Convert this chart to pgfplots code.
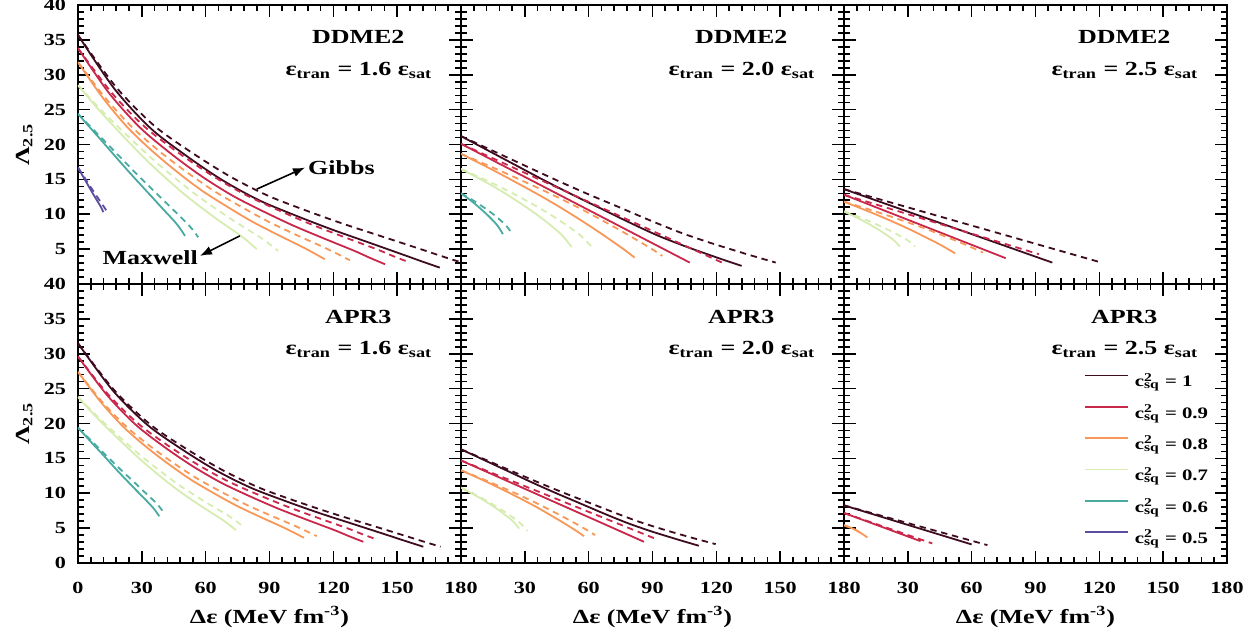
\documentclass[border=0pt]{standalone}
\usepackage{fontspec}
\setmainfont{Liberation Serif}[FakeStretch=1.3]
\usepackage{pgfplots}
\pgfplotsset{compat=1.18}
\usepgfplotslibrary{groupplots}
\usetikzlibrary{arrows.meta}
\definecolor{cA}{RGB}{62,12,32}
\definecolor{cB}{RGB}{201,40,75}
\definecolor{cC}{RGB}{247,152,88}
\definecolor{cD}{RGB}{214,236,176}
\definecolor{cE}{RGB}{72,170,160}
\definecolor{cF}{RGB}{90,78,160}
\newcommand{\annfont}{\fontsize{10}{12}\selectfont\bfseries}
\newcommand{\csq}{c\rlap{\textsuperscript{2}}\textsubscript{sq}}
\newcommand{\etr}[1]{ε\textsubscript{tran} = #1 ε\textsubscript{sat}}
\pgfplotsset{
 mx/.style={line width=0.9pt, smooth},
 gb/.style={line width=0.9pt, smooth, dash pattern=on 3.2pt off 2.4pt},
 panel/.style={width=191.5pt,height=139.5pt,scale only axis,
   xmin=0,xmax=180,ymin=0,ymax=40,
   xtick={0,30,...,180}, ytick={0,5,...,40},
   minor x tick num=4, minor y tick num=4,
   tick align=inside, axis line style={line width=1.2pt},
   major tick length=6pt, minor tick length=3pt,
   every tick/.append style={line width=0.8pt, black},
   tick label style={font=\fontsize{8.5}{10}\selectfont\bfseries},
   xticklabel style={yshift=-6pt}, yticklabel style={xshift=-2.5pt},
   every axis y label/.style={at={(axis description cs:-0.14,0.5)}, rotate=90, anchor=center, font=\annfont},
   every axis x label/.style={at={(axis description cs:0.5,-0.1935)}, anchor=center, font=\annfont},
   xticklabels={}, yticklabels={},
 },
}
\begin{document}
\begin{tikzpicture}
\begin{groupplot}[group style={group size=3 by 2, horizontal sep=0pt, vertical sep=0pt}, panel]
% ---------- DDME2 1.6
\nextgroupplot[yticklabels={,5,10,15,20,25,30,35,40}, ylabel={Λ\textsubscript{2.5}}]
\addplot[cA,mx] coordinates {(0,35.7)(17,28.03)(34,22.36)(51,18.36)(68,14.86)(85,12.02)(102,9.85)(119,7.85)(136,6.02)(153,4.18)(161.5,3.25)(170,2.35)};
\addplot[cA,gb] coordinates {(0,35.7)(17.9,28.23)(35.8,22.7)(53.7,18.8)(71.6,15.39)(89.5,12.63)(107.4,10.51)(125.3,8.56)(143.2,6.78)(161.1,4.99)(170,4.08)(179,3.2)};
\addplot[cB,mx] coordinates {(0,33.8)(14.4,27.45)(28.9,22.5)(43.3,18.78)(57.7,15.53)(72.2,12.74)(86.6,10.48)(101,8.4)(115.4,6.55)(129.9,4.75)(137.1,3.76)(144.3,2.83)};
\addplot[cB,gb] coordinates {(0,33.8)(15.6,27.5)(31.2,22.58)(46.8,18.9)(62.4,15.67)(78,12.9)(93.6,10.66)(109.2,8.6)(124.8,6.76)(140.4,4.98)(148.2,3.99)(156,3.07)};
\addplot[cC,mx] coordinates {(0,31.8)(11.6,26.72)(23.2,22.48)(34.8,19.09)(46.4,16.12)(58,13.44)(69.6,11.18)(81.2,9.06)(92.8,7.22)(104.4,5.47)(110.2,4.54)(116,3.55)};
\addplot[cC,gb] coordinates {(0,31.8)(12.8,26.69)(25.6,22.43)(38.3,19.02)(51.1,16.04)(63.9,13.34)(76.7,11.07)(89.5,8.94)(102.2,7.09)(115,5.33)(121.4,4.39)(127.8,3.4)};
\addplot[cD,mx] coordinates {(0,28.5)(8.4,25.45)(16.8,22.63)(25.2,19.92)(33.6,17.34)(42,14.99)(50.4,12.76)(58.8,10.76)(67.2,8.88)(75.6,7.12)(79.8,6.13)(84,5.0)};
\addplot[cD,gb] coordinates {(0,28.5)(9.4,25.41)(18.8,22.56)(28.2,19.83)(37.6,17.22)(47,14.84)(56.4,12.59)(65.8,10.57)(75.2,8.67)(84.6,6.89)(89.3,5.89)(94,4.75)};
\addplot[cE,mx] coordinates {(0,24.4)(5,22.65)(10.1,20.9)(15.1,19.15)(20.1,17.4)(25.2,15.65)(30.2,13.99)(35.2,12.33)(40.2,10.66)(45.3,9.0)(47.8,8.04)(50.3,6.9)};
\addplot[cE,gb] coordinates {(0,24.4)(5.65,22.63)(11.3,20.86)(16.95,19.09)(22.6,17.32)(28.25,15.55)(33.9,13.87)(39.55,12.19)(45.2,10.51)(50.85,8.82)(53.7,7.85)(56.5,6.7)};
\addplot[cF,mx] coordinates {(0,16.7)(3.57,14.78)(7.14,12.89)(10.71,11.07)(11.9,10.3)};
\addplot[cF,gb] coordinates {(0,16.7)(4.26,14.69)(8.52,12.71)(12.78,10.8)(14.2,10.0)};
\node[anchor=base,font=\annfont] at (axis cs:131.7,34.45) {DDME2};
\node[anchor=base,font=\annfont] at (axis cs:132,29.85) {\etr{1.6}};
\draw[-{Latex[length=6pt,width=4.5pt]}, line width=0.8pt] (axis cs:84,13.6) -- (axis cs:106.7,16.7);
\node[anchor=west,inner sep=0pt,font=\annfont] at (axis cs:108,16.7) {Gibbs};
\draw[-{Latex[length=6pt,width=4.5pt]}, line width=0.8pt] (axis cs:76.1,6.9) -- (axis cs:57.3,4.03);
\node[anchor=east,inner sep=0pt,font=\annfont] at (axis cs:56.5,3.8) {Maxwell};
% ---------- DDME2 2.0
\nextgroupplot[]
\addplot[cA,mx] coordinates {(0,21.2)(13.2,19.06)(26.4,16.92)(39.6,14.78)(52.8,12.74)(66,10.78)(79.1,8.83)(92.3,6.97)(105.5,5.39)(118.7,3.96)(125.3,3.27)(131.9,2.6)};
\addplot[cA,gb] coordinates {(0,21.2)(14.8,19.12)(29.6,17.03)(44.4,14.95)(59.2,12.95)(74,11.05)(88.7,9.14)(103.5,7.33)(118.3,5.79)(133.1,4.39)(140.5,3.72)(147.9,3.07)};
\addplot[cB,mx] coordinates {(0,20.1)(26.9,15.84)(53.75,11.59)(80.6,7.33)(107.5,3.07)};
\addplot[cB,gb] coordinates {(0,20.1)(31.1,15.78)(62.2,11.47)(93.3,7.15)(124.4,2.83)};
\addplot[cC,mx] coordinates {(0,18.66)(8.2,17.4)(16.3,16.13)(24.5,14.79)(32.6,13.45)(40.8,12.04)(49,10.55)(57.1,8.99)(65.3,7.35)(73.4,5.64)(77.5,4.75)(81.6,3.78)};
\addplot[cC,gb] coordinates {(0,18.66)(9.5,17.42)(18.9,16.17)(28.4,14.86)(37.8,13.54)(47.3,12.15)(56.8,10.69)(66.2,9.15)(75.7,7.54)(85.1,5.86)(89.9,4.98)(94.6,4.03)};
\addplot[cD,mx] coordinates {(0,16.5)(5.2,15.66)(10.4,14.82)(15.6,13.92)(20.8,12.97)(26,11.96)(31.2,10.9)(36.4,9.78)(41.6,8.55)(46.8,7.2)(49.4,6.31)(52,5.3)};
\addplot[cD,gb] coordinates {(0,16.5)(6.2,15.65)(12.4,14.79)(18.6,13.88)(24.8,12.92)(31,11.9)(37.2,10.82)(43.4,9.68)(49.6,8.43)(55.8,7.06)(58.9,6.15)(62,5.13)};
\addplot[cE,mx] coordinates {(0,13)(5.9,11.65)(11.8,10.08)(15.8,8.85)(17.7,8.14)(19.7,7.15)};
\addplot[cE,gb] coordinates {(0,13)(7,11.74)(14,10.27)(18.6,9.12)(21,8.46)(23.3,7.53)};
\node[anchor=base,font=\annfont] at (axis cs:131.7,34.45) {DDME2};
\node[anchor=base,font=\annfont] at (axis cs:132,29.85) {\etr{2.0}};
% ---------- DDME2 2.5
\nextgroupplot[]
\addplot[cA,mx] coordinates {(0,13.6)(48.95,8.34)(97.9,3.07)};
\addplot[cA,gb] coordinates {(0,13.6)(59.75,8.4)(119.5,3.2)};
\addplot[cB,mx] coordinates {(0,12.8)(38,8.25)(76,3.7)};
\addplot[cB,gb] coordinates {(0,12.8)(45.8,8.54)(91.6,4.27)};
\addplot[cC,mx] coordinates {(0,11.8)(10.4,10.54)(20.9,9.21)(31.3,7.77)(41.8,6.18)(47,5.33)(52.2,4.4)};
\addplot[cC,gb] coordinates {(0,11.8)(13.1,10.56)(26.1,9.25)(39.2,7.82)(52.2,6.25)(58.8,5.41)(65.3,4.5)};
\addplot[cD,mx] coordinates {(0,10.4)(7.9,9.24)(15.7,7.89)(21,6.83)(23.6,6.23)(26.2,5.37)};
\addplot[cD,gb] coordinates {(0,10.4)(10,9.24)(20,7.89)(26.7,6.83)(30.1,6.23)(33.4,5.37)};
\node[anchor=base,font=\annfont] at (axis cs:131.7,34.45) {DDME2};
\node[anchor=base,font=\annfont] at (axis cs:132,29.85) {\etr{2.5}};
% ---------- APR3 1.6
\nextgroupplot[yticklabels={0,5,10,15,20,25,30,35,40}, xticklabels={0,30,60,90,120,150,180}, ylabel={Λ\textsubscript{2.5}}, xlabel={Δε (MeV fm\textsuperscript{-3})}]
\addplot[cA,mx] coordinates {(0,31.5)(16.2,24.79)(32.5,19.83)(48.7,16.33)(64.9,13.27)(81.2,10.79)(97.4,8.89)(113.6,7.14)(129.8,5.54)(146.1,3.93)(154.2,3.12)(162.3,2.33)};
\addplot[cA,gb] coordinates {(0,31.5)(17,24.79)(34.1,19.83)(51.1,16.33)(68.2,13.27)(85.2,10.79)(102.2,8.89)(119.3,7.14)(136.3,5.54)(153.4,3.93)(161.9,3.12)(170.4,2.33)};
\addplot[cB,mx] coordinates {(0,29.6)(13.4,24.16)(26.8,19.91)(40.2,16.72)(53.6,13.93)(67.1,11.54)(80.5,9.6)(93.9,7.82)(107.3,6.23)(120.7,4.69)(127.4,3.84)(134.1,3.04)};
\addplot[cB,gb] coordinates {(0,29.6)(14,24.22)(28.1,20.03)(42.1,16.88)(56.2,14.12)(70.2,11.76)(84.2,9.85)(98.3,8.09)(112.3,6.52)(126.4,5.0)(133.4,4.16)(140.4,3.37)};
\addplot[cC,mx] coordinates {(0,27.4)(10.6,23.12)(21.2,19.55)(31.9,16.69)(42.5,14.2)(53.1,11.94)(63.7,10.03)(74.3,8.25)(85,6.7)(95.6,5.23)(100.9,4.44)(106.2,3.61)};
\addplot[cC,gb] coordinates {(0,27.4)(11.2,23.16)(22.4,19.63)(33.7,16.8)(44.9,14.33)(56.1,12.09)(67.3,10.21)(78.5,8.44)(89.8,6.91)(101,5.45)(106.6,4.67)(112.2,3.85)};
\addplot[cD,mx] coordinates {(0,23.8)(7.4,21.32)(14.8,19.03)(22.3,16.83)(29.7,14.73)(37.1,12.82)(44.5,11.0)(51.9,9.38)(59.4,7.85)(66.8,6.42)(70.5,5.62)(74.2,4.7)};
\addplot[cD,gb] coordinates {(0,23.8)(7.7,21.41)(15.4,19.2)(23.1,17.08)(30.8,15.06)(38.5,13.22)(46.1,11.47)(53.8,9.91)(61.5,8.44)(69.2,7.06)(73.1,6.28)(76.9,5.4)};
\addplot[cE,mx] coordinates {(0,19.4)(3.8,18.13)(7.6,16.86)(11.5,15.59)(15.3,14.32)(19.1,13.05)(22.9,11.84)(26.7,10.64)(30.6,9.43)(34.4,8.22)(36.3,7.53)(38.2,6.7)};
\addplot[cE,gb] coordinates {(0,19.4)(4,18.2)(8,17.0)(11.9,15.81)(15.9,14.62)(19.9,13.43)(23.9,12.29)(27.9,11.15)(31.8,10.02)(35.8,8.88)(37.8,8.23)(39.8,7.45)};
\node[anchor=base,font=\annfont] at (axis cs:131.7,34.4) {APR3};
\node[anchor=base,font=\annfont] at (axis cs:132,29.9) {\etr{1.6}};
% ---------- APR3 2.0
\nextgroupplot[xticklabels={,30,60,90,120,150,180}, xlabel={Δε (MeV fm\textsuperscript{-3})}]
\addplot[cA,mx] coordinates {(0,16.3)(11.2,14.71)(22.4,13.12)(33.5,11.53)(44.7,10.01)(55.9,8.56)(67.1,7.1)(78.3,5.72)(89.4,4.54)(100.6,3.48)(106.2,2.97)(111.8,2.47)};
\addplot[cA,gb] coordinates {(0,16.3)(12,14.74)(23.9,13.17)(35.9,11.61)(47.9,10.11)(59.9,8.68)(71.8,7.26)(83.8,5.9)(95.8,4.74)(107.7,3.69)(113.7,3.19)(119.7,2.7)};
\addplot[cB,mx] coordinates {(0,14.7)(21.5,11.79)(43,8.87)(64.5,5.96)(86,3.04)};
\addplot[cB,gb] coordinates {(0,14.7)(22.8,11.9)(45.6,9.1)(68.4,6.3)(91.2,3.5)};
\addplot[cC,mx] coordinates {(0,13.3)(11.6,11.69)(23.1,9.99)(34.7,8.15)(46.2,6.12)(52,5.03)(54.9,4.46)(57.8,3.85)};
\addplot[cC,gb] coordinates {(0,13.3)(12.6,11.72)(25.2,10.05)(37.8,8.23)(50.4,6.23)(56.7,5.16)(59.9,4.6)(63,4.0)};
\addplot[cD,mx] coordinates {(0,10.8)(8.2,9.45)(16.4,7.87)(21.8,6.64)(24.6,5.94)(27.3,4.94)};
\addplot[cD,gb] coordinates {(0,10.8)(9.4,9.37)(18.7,7.7)(25,6.4)(28.1,5.65)(31.2,4.6)};
\node[anchor=base,font=\annfont] at (axis cs:131.7,34.4) {APR3};
\node[anchor=base,font=\annfont] at (axis cs:132,29.9) {\etr{2.0}};
% ---------- APR3 2.5
\nextgroupplot[xticklabels={,30,60,90,120,150,180}, xlabel={Δε (MeV fm\textsuperscript{-3})},
  legend style={draw=none, fill=none, at={(0.6267,0.7033)}, anchor=north west, inner sep=0pt, outer sep=0pt,
    row sep=0pt, font=\fontsize{8}{9.6}\selectfont\bfseries,
    nodes={inner sep=0pt, text height=10pt, text depth=5.67pt},
    /tikz/every odd column/.append style={column sep=3pt}},
  legend cell align=left,
  legend image code/.code={\draw[#1] (0pt,3.5pt) -- (21.5pt,3.5pt);}]
\addlegendimage{cA,line width=0.9pt}\addlegendentry{\csq{} = 1}
\addlegendimage{cB,line width=0.9pt}\addlegendentry{\csq{} = 0.9}
\addlegendimage{cC,line width=0.9pt}\addlegendentry{\csq{} = 0.8}
\addlegendimage{cD,line width=0.9pt}\addlegendentry{\csq{} = 0.7}
\addlegendimage{cE,line width=0.9pt}\addlegendentry{\csq{} = 0.6}
\addlegendimage{cF,line width=0.9pt}\addlegendentry{\csq{} = 0.5}
\addplot[cA,mx,forget plot] coordinates {(0,8.26)(30,5.46)(60,2.66)};
\addplot[cA,gb,forget plot] coordinates {(0,8.26)(33.7,5.41)(67.4,2.56)};
\addplot[cB,mx,forget plot] coordinates {(0,7.17)(18,5.15)(36,3.13)};
\addplot[cB,gb,forget plot] coordinates {(0,7.17)(20.75,4.99)(41.5,2.8)};
\addplot[cC,mx,forget plot] coordinates {(0,5.41)(4.7,4.85)(9.4,4.0)};
\addplot[cC,gb,forget plot] coordinates {(0,5.41)(5.5,4.75)(11,3.66)};
\node[anchor=base,font=\annfont] at (axis cs:131.7,34.4) {APR3};
\node[anchor=base,font=\annfont] at (axis cs:132,29.9) {\etr{2.5}};
\end{groupplot}
\pgfresetboundingbox
\path ([shift={(-39pt,2.5pt)}]group c1r1.north west) rectangle ([shift={(16.5pt,-35.5pt)}]group c3r2.south east);
\end{tikzpicture}
\end{document}
